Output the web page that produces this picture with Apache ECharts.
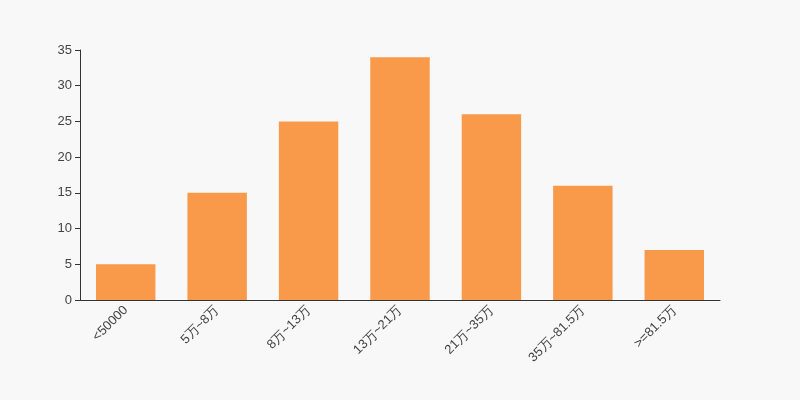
<!DOCTYPE html>
<html><head><meta charset="utf-8">
<script src="https://cdn.jsdelivr.net/npm/echarts@6/dist/echarts.min.js"></script>
<style>html,body{margin:0;padding:0;background:#f8f8f8}#c{width:800px;height:400px}</style>
</head><body><div id="c"></div>
<script>
const categories = ['<50000','5万~8万','8万~13万','13万~21万','21万~35万','35万~81.5万','>=81.5万'];
const values = [5,15,25,34,26,16,7];
const chart = echarts.init(document.getElementById('c'));
chart.setOption({
  backgroundColor:'#f8f8f8',
  animation:false,
  grid:{left:80,right:80,top:50,bottom:100},
  xAxis:{type:'category',data:categories,
    axisLine:{lineStyle:{color:'#333'}},
    axisTick:{lineStyle:{color:'#333'}},
    axisLabel:{rotate:45,color:'#444',fontSize:13,interval:0,fontFamily:'Arial, sans-serif'}},
  yAxis:{type:'value',min:0,max:35,interval:5,
    axisLine:{show:true,lineStyle:{color:'#333'}},
    axisTick:{show:true,lineStyle:{color:'#333'}},
    splitLine:{show:false},
    axisLabel:{color:'#444',fontSize:13,fontFamily:'Arial, sans-serif'}},
  series:[{type:'bar',data:values,barWidth:'65%',itemStyle:{color:'#f99a4a'}}]
});
</script></body></html>
